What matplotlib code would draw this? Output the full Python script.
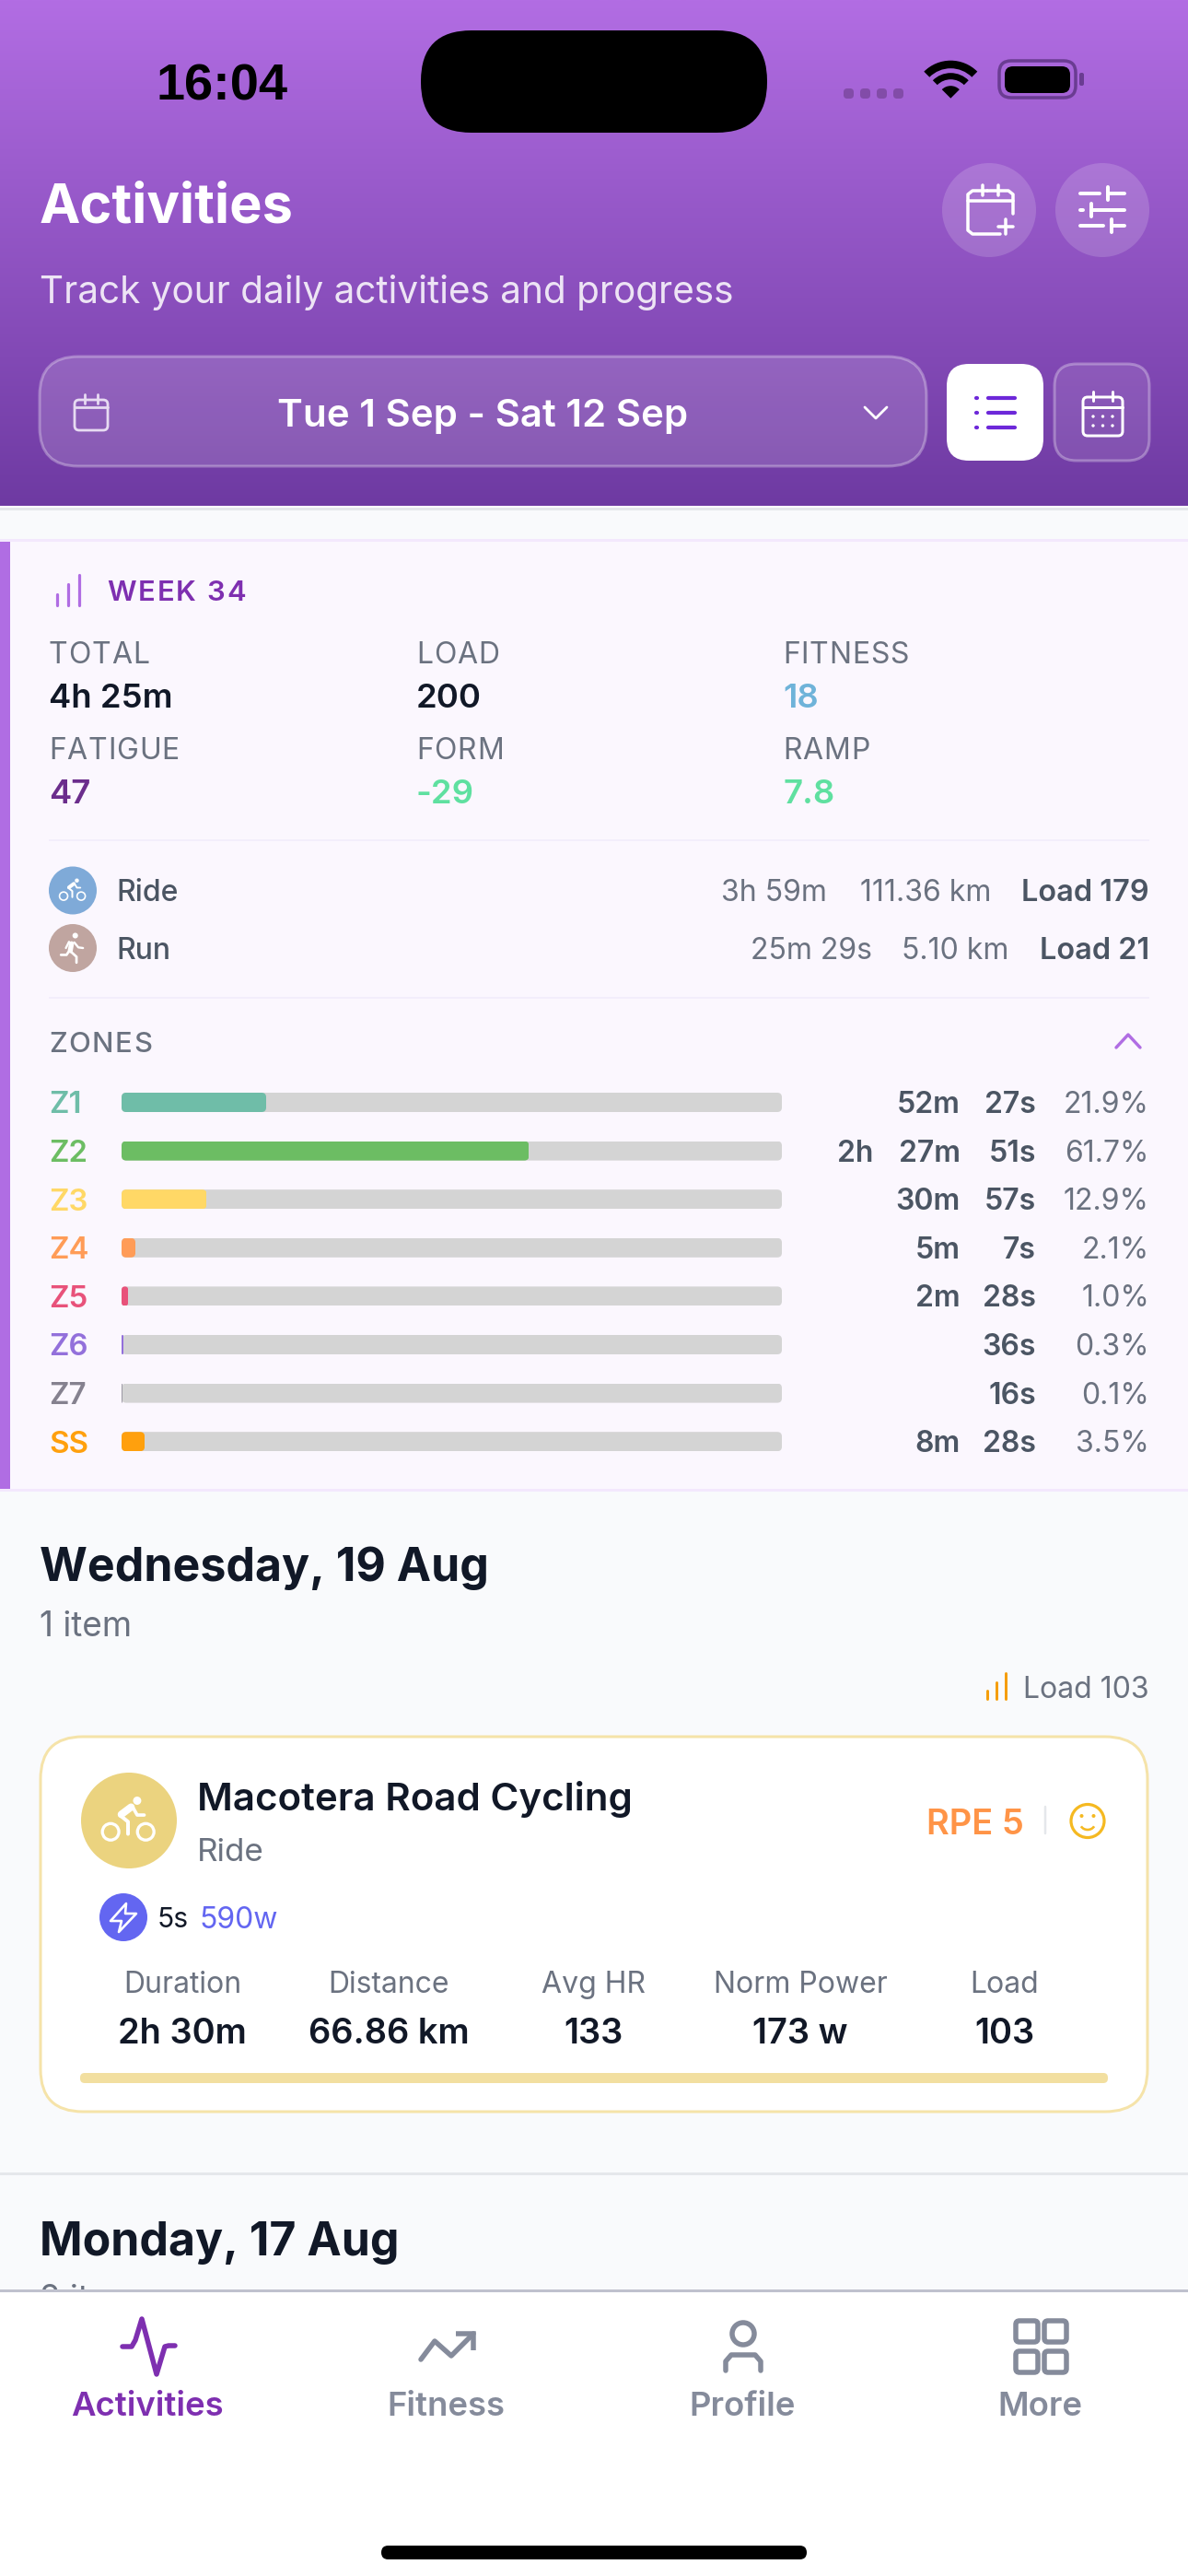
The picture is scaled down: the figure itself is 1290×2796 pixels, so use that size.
import numpy as np
import matplotlib
matplotlib.use("Agg")
import matplotlib.pyplot as plt
from matplotlib.patches import FancyBboxPatch, Circle, Wedge, Polygon, Arc
from matplotlib.transforms import IdentityTransform

plt.rcParams['font.family'] = ['Inter', 'DejaVu Sans']

# data
stat_labels = ["TOTAL", "LOAD", "FITNESS", "FATIGUE", "FORM", "RAMP"]
stat_values = ["4h 25m", "200", "18", "47", "-29", "7.8"]
stat_colors = ["#111827", "#111827", "#6FB3D9", "#6B2D8C", "#5FE0A0", "#5FE0A0"]

sport_names = ["Ride", "Run"]
sport_times = ["3h 59m", "25m 29s"]
sport_dists = ["111.36 km", "5.10 km"]
sport_loads = ["Load 179", "Load 21"]
sport_colors = ["#7FAAD8", "#C0A5A0"]

zone_names = ["Z1", "Z2", "Z3", "Z4", "Z5", "Z6", "Z7", "SS"]
zone_pct = [21.9, 61.7, 12.9, 2.1, 1.0, 0.3, 0.1, 3.5]
zone_hours = ["", "2h", "", "", "", "", "", ""]
zone_mins = ["52m", "27m", "30m", "5m", "2m", "", "", "8m"]
zone_secs = ["27s", "51s", "57s", "7s", "28s", "36s", "16s", "28s"]
zone_colors = ["#6FBDA8", "#6CBD63", "#FFD866", "#FF9C57", "#E8527A", "#9370DB", "#85818F", "#FFA00D"]

metric_labels = ["Duration", "Distance", "Avg HR", "Norm Power", "Load"]
metric_values = ["2h 30m", "66.86 km", "133", "173 w", "103"]

nav_labels = ["Activities", "Fitness", "Profile", "More"]

W, H = 1290, 2796
PURPLE = "#B06DE3"
DEEP = "#7E2FB0"
GREY = "#6B7280"
SLATE = "#4B5563"
INK = "#111827"
NAVGREY = "#858B9B"
SEMI = 600

fig = plt.figure(figsize=(W / 100, H / 100), dpi=100, facecolor="#F9FAFC")
ax = fig.add_axes([0, 0, 1, 1])
ax.set_xlim(0, W)
ax.set_ylim(H, 0)
ax.axis("off")


def px(v):
    return v * 0.72


def T(x, y, s, size, color=INK, weight="normal", ha="left", z=5, alpha=None, family=None):
    # y is the middle of the capitals
    kw = {}
    if family:
        kw["family"] = family
    return ax.text(x, y + 0.36 * size, s, fontsize=px(size), color=color, fontweight=weight,
                   ha=ha, va="baseline", zorder=z, alpha=alpha, **kw)


def tracked(x, y, s, size, track, color=INK, weight="normal"):
    # letter spaced text, placed one glyph at a time
    r = fig.canvas.get_renderer()
    for i, ch in enumerate(s):
        if i:
            probe = ax.text(0, 0, s[:i] + "|", fontsize=px(size), fontweight=weight)
            bar = ax.text(0, 0, "|", fontsize=px(size), fontweight=weight)
            adv = probe.get_window_extent(r).width - bar.get_window_extent(r).width
            probe.remove()
            bar.remove()
        else:
            adv = 0
        T(x + adv + i * track, y, ch, size, color=color, weight=weight)


def box(x0, y0, x1, y1, r, fc="none", ec="none", lw=0, z=2, alpha=None):
    p = FancyBboxPatch((x0, y0), x1 - x0, y1 - y0, boxstyle=f"round,pad=0,rounding_size={r}",
                       fc=fc, ec=ec, lw=px(lw), zorder=z, alpha=alpha)
    ax.add_patch(p)
    return p


def line(xs, ys, color, lw, z=6, cap="round"):
    ax.plot(xs, ys, color=color, lw=px(lw), solid_capstyle=cap, solid_joinstyle="round", zorder=z)


def bars_icon(x0, gap, bottom, tops, color, lw):
    for i, top in enumerate(tops):
        line([x0 + i * gap] * 2, [top, bottom], color, lw)


def bike(cx, cy, R, color="white"):
    # R is the radius of the disc behind the icon
    k = R / 157
    def X(v):
        return [cx + (a - 165) * k for a in v]
    def Y(v):
        return [cy + (a - 168) * k for a in v]
    for zx in (105, 220):
        ax.add_patch(Circle((X([zx])[0], Y([205])[0]), 27 * k, fc="none", ec=color, lw=px(10 * k), zorder=6))
    ax.add_patch(Circle((X([192])[0], Y([103])[0]), 13.5 * k, fc=color, ec="none", zorder=6))
    line(X([140, 172]), Y([148, 124]), color, 24 * k)
    line(X([178, 192, 215]), Y([125, 150, 150]), color, 11 * k)
    line(X([135, 162, 162]), Y([150, 172, 212]), color, 12 * k)


def runner(cx, cy, R, color="white"):
    k = R / 77
    def X(v):
        return [cx + (a - 100) * k for a in v]
    def Y(v):
        return [cy + (a - 90) * k for a in v]
    ax.add_patch(Circle((X([108])[0], Y([50])[0]), 9 * k, fc=color, ec="none", zorder=6))
    line(X([96, 92]), Y([76, 98]), color, 16 * k)
    line(X([105, 118, 133]), Y([72, 88, 90]), color, 7 * k)
    line(X([88, 78]), Y([70, 90]), color, 7 * k)
    line(X([92, 112, 112]), Y([100, 118, 137]), color, 8 * k)
    line(X([88, 80, 62]), Y([100, 112, 112]), color, 8 * k)


def calendar(x0, y0, x1, y1, head, color, lw, ticks, z=6):
    box(x0, y0 + 6, x1, y1, 5, ec=color, lw=lw, z=z)
    line([x0, x1], [head, head], color, lw)
    for t in ticks:
        line([t, t], [y0, y0 + 10], color, lw)


# header
grad = np.linspace(0, 1, 300).reshape(-1, 1)
top_c, bot_c = np.array([178, 109, 227]) / 255, np.array([110, 58, 162]) / 255
img = top_c[None, None, :] * (1 - grad[..., None]) + bot_c[None, None, :] * grad[..., None]
ax.imshow(img, extent=(0, W, 549, 0), aspect="auto", zorder=1, interpolation="bilinear")
ax.set_xlim(0, W)
ax.set_ylim(H, 0)
ax.add_patch(plt.Rectangle((0, 549), W, 2, fc="white", ec="none", zorder=2))
ax.add_patch(plt.Rectangle((0, 551), W, 3, fc="#E5E7EB", ec="none", zorder=2))

# status bar
T(241, 88, "16:04", 56, color="black", weight="bold", ha="center", family="Liberation Sans")
box(457, 33, 833, 144, 55, fc="black", z=3)
for x in (916, 934, 952, 970):
    box(x, 96, x + 11, 107, 4, fc="#824CA8", z=3)
for r, w in ((41, 8.5), (27.5, 7)):
    ax.add_patch(Wedge((1032.3, 106.7), r, 225, 315, width=w, fc="black", ec="none", zorder=3))
ax.add_patch(Wedge((1032.3, 106.7), 13.5, 225, 315, fc="black", ec="none", zorder=3))
box(1085, 66, 1168, 106, 13, ec="#6A3C92", lw=3.5, z=3)
box(1091, 72, 1162, 101, 9, fc="black", z=4)
box(1172, 79, 1177, 93, 2, fc="#6A3C92", z=3)

# title area
T(43, 220, "Activities", 59.5, color="white", weight="bold")
T(43, 314.5, "Track your daily activities and progress", 40.5, color="white", alpha=0.85)
for cx in (1074, 1197):
    ax.add_patch(Circle((cx, 228), 51, fc="white", ec="none", alpha=0.16, zorder=2))
line([1086, 1056, 1051, 1051, 1056, 1072], [254, 254, 250, 211, 207, 207], "white", 3.5)
line([1072, 1095, 1100, 1100], [207, 207, 211, 232], "white", 3.5)
line([1051, 1100], [218, 218], "white", 3.5)
line([1067, 1067], [201, 212], "white", 3.5)
line([1084, 1084], [201, 212], "white", 3.5)
line([1084, 1100], [246, 246], "white", 3.5)
line([1092, 1092], [238, 254], "white", 3.5)
# sliders
for y, split in ((210, 1203), (228, 1185), (245, 1207)):
    line([1173, split - 9], [y, y], "white", 4)
    line([split, 1221], [y, y], "white", 4)
    line([split, split], [y - 7, y + 7], "white", 4)

# date selector
box(43, 387, 1006, 506, 42, fc="white", alpha=0.15, z=2)
box(43, 387, 1006, 506, 42, ec="white", lw=3, alpha=0.3, z=2)
T(524.5, 448, "Tue 1 Sep - Sat 12 Sep", 42, color="white", weight=SEMI, ha="center")
calendar(81, 428, 117, 467, 442, "#E7DBF2", 2.8, [92, 106])
line([939, 951, 963], [442, 454, 442], "white", 2.8)
box(1028, 395, 1133, 500, 24, fc="white", z=3)
for y in (432, 448, 464):
    line([1060, 1060.5], [y, y], "#6D28D9", 4.2)
    line([1073, 1102], [y, y], "#6D28D9", 4.2)
box(1145, 395, 1248, 500, 24, fc="white", alpha=0.1, z=2)
box(1145, 395, 1248, 500, 24, ec="white", lw=3, alpha=0.3, z=2)
calendar(1176, 425, 1219, 473, 442, "white", 3, [1187, 1208])
for y in (452, 462):
    for x in (1187, 1197.5, 1208):
        ax.add_patch(Circle((x, y), 1.7, fc="white", ec="none", zorder=6))

# week card
ax.add_patch(plt.Rectangle((0, 585), W, 1034, fc="#FBF7FE", ec="none", zorder=1))
ax.add_patch(plt.Rectangle((0, 585), W, 3, fc="#F3E8FD", ec="none", zorder=2))
ax.add_patch(plt.Rectangle((0, 1616), W, 3, fc="#F3E8FD", ec="none", zorder=2))
ax.add_patch(plt.Rectangle((0, 588), 11, 1028, fc=PURPLE, ec="none", zorder=3))
bars_icon(61.5, 12.4, 657, [645, 634, 624], PURPLE, 3.2)
tracked(116, 641, "WEEK 34", 31, 2.0, color=DEEP, weight=SEMI)

col_x = [53, 452, 850]
row_y = [(708.5, 755), (812, 859)]
for i, (lab, val, c) in enumerate(zip(stat_labels, stat_values, stat_colors)):
    ly, vy = row_y[i // 3]
    tracked(col_x[i % 3], ly, lab, 32, 0.8, color=GREY)
    T(col_x[i % 3], vy, val, 36.5, color=c, weight=SEMI)

for y in (912, 1083):
    ax.add_patch(plt.Rectangle((53, y - 1.2), 1195, 2.5, fc="#F3EEFB", ec="none", zorder=2))

for i, y in enumerate((966.5, 1029)):
    ax.add_patch(Circle((79, y), 26, fc=sport_colors[i], ec="none", zorder=3))
    T(126, y, sport_names[i], 32, color=SLATE, weight="medium")
bike(79, 966.5, 26)
runner(79, 1029, 26)
T(898, 966.5, sport_times[0], 32, color=GREY, ha="right")
T(1076, 966.5, sport_dists[0], 32, color=GREY, ha="right")
T(1248, 966.5, sport_loads[0], 32.5, color=SLATE, weight=SEMI, ha="right")
T(947, 1029, sport_times[1], 32, color=GREY, ha="right")
T(1095, 1029, sport_dists[1], 32, color=GREY, ha="right")
T(1248, 1029, sport_loads[1], 32.5, color=SLATE, weight=SEMI, ha="right")

tracked(53, 1131, "ZONES", 31, 1.5, color=GREY, weight="medium")
line([1212, 1225, 1238], [1137, 1123, 1137], PURPLE, 3.4)

# zone bars, one row every 52.6 px, track from 132 to 849
row = 52.6
zax = fig.add_axes([132 / W, 1 - (1196.5 + 7.5 * row) / H, 717 / W, 8 * row / H])
zax.set_xlim(0, 100)
zax.set_ylim(7.5, -0.5)
zax.axis("off")
zax.patch.set_alpha(0)
tracks = zax.barh(range(len(zone_names)), [100] * len(zone_names), height=21 / row, color="#D4D4D4", zorder=1)
fills = zax.barh(range(len(zone_names)), zone_pct, height=21 / row, color=zone_colors, zorder=2)
for b in list(tracks) + list(fills):
    e = b.get_window_extent()
    clip = FancyBboxPatch((e.x0, e.y0), e.width, e.height,
                          boxstyle=f"round,pad=0,rounding_size={min(e.width / 2, 5)}",
                          transform=IdentityTransform())
    b.set_clip_path(clip)

for i, name in enumerate(zone_names):
    y = 1196.5 + i * row
    T(53, y, name, 33, color=zone_colors[i], weight=SEMI)
    T(948, y, zone_hours[i], 32, color=SLATE, weight=SEMI, ha="right")
    T(1043, y, zone_mins[i], 32, color=SLATE, weight=SEMI, ha="right")
    T(1125, y, zone_secs[i], 32, color=SLATE, weight=SEMI, ha="right")
    T(1248, y, f"{zone_pct[i]:.1f}%", 32, color=GREY, ha="right")

# day section
T(43, 1698, "Wednesday, 19 Aug", 50, weight="bold")
T(43, 1763, "1 item", 37, color=GREY)
bars_icon(1072, 10.2, 1844, [1835, 1826, 1816], "#F59E0B", 3)
T(1248, 1831, "Load 103", 32, color=GREY, ha="right")

box(44, 1885, 1246, 2292, 46, fc="white", ec="#F5E3A9", lw=3, z=2)
ax.add_patch(Circle((140, 1976), 52, fc="#EBD37F", ec="none", zorder=3))
bike(140, 1976, 52)
T(214, 1950, "Macotera Road Cycling", 42, weight=SEMI)
T(214, 2007.5, "Ride", 35, color=GREY)
T(1006, 1977, "RPE 5", 38, color="#FF9447", weight=SEMI)
line([1135, 1135], [1961, 1990], "#E5E7EB", 2.5)
ax.add_patch(Circle((1181, 1976.5), 18, fc="none", ec="#F5B921", lw=px(3.2), zorder=6))
ax.add_patch(Circle((1174.5, 1971), 2, fc="#F5B921", ec="none", zorder=6))
ax.add_patch(Circle((1187.5, 1971), 2, fc="#F5B921", ec="none", zorder=6))
ax.add_patch(Arc((1181, 1979), 16, 14, theta1=25, theta2=155, ec="#F5B921", lw=px(2.6), zorder=6))

ax.add_patch(Circle((134, 2081), 26, fc="#6366F1", ec="none", zorder=3))
ax.add_patch(Polygon([[137, 2066], [120, 2085], [132, 2085], [129, 2097], [148, 2077], [136, 2077]],
                     closed=True, fc="none", ec="white", lw=px(2.6), joinstyle="round", zorder=6))
T(171, 2081, "5s", 30, color=INK)
T(216, 2081, "590w", 32, color="#6366F1")

metric_x = [198, 422, 644, 869, 1091]
for x, lab, val in zip(metric_x, metric_labels, metric_values):
    T(x, 2151, lab, 32, color=GREY, ha="center")
    T(x, 2204, val, 38, weight=SEMI, ha="center")
box(87, 2250, 1203, 2261, 5, fc="#F2DFA0", z=3)

ax.add_patch(plt.Rectangle((0, 2358), W, 3, fc="#E5E7EB", ec="none", zorder=2))
T(43, 2430, "Monday, 17 Aug", 50, weight="bold")
T(43, 2494, "2 items", 37, color=GREY, z=4)

# bottom nav
ax.add_patch(plt.Rectangle((0, 2485), W, H - 2485, fc="white", ec="none", zorder=8))
ax.add_patch(plt.Rectangle((0, 2485), W, 3, fc="#BFC1CE", ec="none", zorder=8))
Z = 9
ax.plot([133, 143, 147, 154, 170, 179, 183, 190], [2547, 2547, 2540, 2517, 2577, 2547, 2546, 2546],
        color=DEEP, lw=px(5.5), solid_joinstyle="round", solid_capstyle="round", zorder=Z)
ax.plot([457, 472, 490, 514], [2561, 2541, 2557, 2533], color=NAVGREY, lw=px(5.5),
        solid_joinstyle="round", solid_capstyle="round", zorder=Z)
ax.plot([495, 514, 514], [2533, 2533, 2551], color=NAVGREY, lw=px(5.5),
        solid_joinstyle="miter", solid_capstyle="butt", zorder=Z)
ax.add_patch(Circle((807, 2533), 12, fc="none", ec=NAVGREY, lw=px(5.5), zorder=Z))
ax.plot([788, 788, 794, 820, 826, 826], [2573, 2563, 2556, 2556, 2563, 2573], color=NAVGREY, lw=px(5.5),
        solid_joinstyle="round", solid_capstyle="round", zorder=Z)
for x0, x1 in ((1103, 1127), (1134, 1158)):
    for y0, y1 in ((2519, 2542), (2552, 2575)):
        box(x0, y0, x1, y1, 4, ec=NAVGREY, lw=5.5, z=Z)
nav_x = [160, 484, 806, 1129]
for i, (x, lab) in enumerate(zip(nav_x, nav_labels)):
    T(x, 2609, lab, 36.5, color=DEEP if i == 0 else NAVGREY, weight=SEMI, ha="center", z=Z)
box(414, 2763, 876, 2778, 7.5, fc="black", z=Z)

fig.savefig("out.png", dpi=100, facecolor=fig.get_facecolor())
